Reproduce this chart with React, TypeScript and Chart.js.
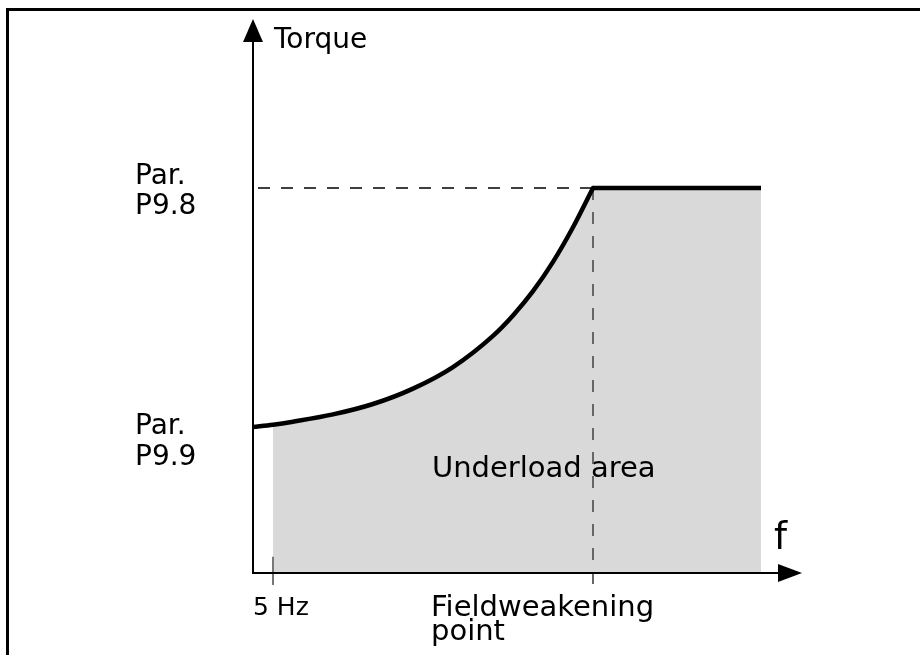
import React, { useEffect, useRef } from "react";
import { Chart, registerables } from "chart.js";

Chart.register(...registerables);

// ---- data ----
const curveFreq = [0, 5, 10, 20, 30, 40, 50, 60, 65, 70, 75, 80, 85];
const curveTorque = [37.9, 38.5, 39.3, 41.2, 43.9, 47.9, 53.5, 61.6, 66.9, 73.2, 80.8, 89.8, 100];
const flatFreq = [85, 127];
const flatTorque = [100, 100];
const limitTorque = 100;
const fieldWeakeningFreq = 85;
const startFreq = 5;
const axisMaxFreq = 137.25;
const axisMaxTorque = 143.9;
const axisMinTorque = 0;

// ---- labels ----
const yAxisTitle = "Torque";
const xAxisTitle = "f";
const upperLimitLabel = ["Par.", "P9.8"];
const lowerLimitLabel = ["Par.", "P9.9"];
const areaLabel = "Underload area";
const startFreqLabel = "5 Hz";
const fieldWeakeningLabel = ["Fieldweakening", "point"];

const FONT = '"DejaVu Sans", sans-serif';

const pts = (xs: number[], ys: number[]) => xs.map((x, i) => ({ x, y: ys[i] }));

const decorPlugin = {
  id: "decor",
  beforeDraw(chart: any) {
    const ctx = chart.ctx;
    ctx.save();
    ctx.fillStyle = "#ffffff";
    ctx.fillRect(0, 0, chart.width, chart.height);
    ctx.restore();
  },
  afterDatasetsDraw(chart: any) {
    const ctx = chart.ctx;
    const xs = chart.scales.x;
    const ys = chart.scales.y;
    const x0 = xs.getPixelForValue(0);
    const y0 = ys.getPixelForValue(0);
    const xEnd = xs.getPixelForValue(axisMaxFreq);
    const yEnd = ys.getPixelForValue(axisMaxTorque);
    const yLimit = ys.getPixelForValue(limitTorque);
    const yLow = ys.getPixelForValue(curveTorque[0]);
    const xFw = xs.getPixelForValue(fieldWeakeningFreq);
    const x5 = xs.getPixelForValue(startFreq);

    ctx.save();
    // frame (top + left)
    ctx.fillStyle = "#000";
    ctx.fillRect(6, 8, chart.width - 6, 3);
    ctx.fillRect(6, 8, 3, chart.height - 8);

    // axes
    ctx.strokeStyle = "#000";
    ctx.lineWidth = 2;
    ctx.beginPath();
    ctx.moveTo(x0, y0 + 1);
    ctx.lineTo(x0, yEnd + 20);
    ctx.stroke();
    ctx.beginPath();
    ctx.moveTo(x0 - 1, y0);
    ctx.lineTo(xEnd - 20, y0);
    ctx.stroke();

    // arrowheads
    ctx.beginPath();
    ctx.moveTo(x0, yEnd);
    ctx.lineTo(x0 - 10, yEnd + 23);
    ctx.lineTo(x0 + 10, yEnd + 23);
    ctx.closePath();
    ctx.fill();
    ctx.beginPath();
    ctx.moveTo(xEnd, y0);
    ctx.lineTo(xEnd - 24, y0 - 9);
    ctx.lineTo(xEnd - 24, y0 + 9);
    ctx.closePath();
    ctx.fill();

    // texts
    ctx.fillStyle = "#000";
    ctx.textBaseline = "alphabetic";
    ctx.textAlign = "left";
    ctx.font = `28px ${FONT}`;
    ctx.fillText(yAxisTitle, x0 + 21, yEnd + 29);
    ctx.fillText(upperLimitLabel[0], 135, yLimit - 4);
    ctx.fillText(upperLimitLabel[1], 135, yLimit + 26);
    ctx.fillText(lowerLimitLabel[0], 135, yLow + 7);
    ctx.fillText(lowerLimitLabel[1], 135, yLow + 38);
    ctx.font = `29px ${FONT}`;
    ctx.fillText(areaLabel, xFw - 161, 477);
    ctx.font = `29px ${FONT}`;
    ctx.fillText(fieldWeakeningLabel[0], xFw - 162, y0 + 43);
    ctx.fillText(fieldWeakeningLabel[1], xFw - 162, y0 + 67);
    ctx.font = `25px ${FONT}`;
    ctx.fillText(startFreqLabel, x5 - 20, y0 + 42);
    ctx.font = `37px ${FONT}`;
    ctx.fillText(xAxisTitle, xEnd - 28, y0 - 24);
    ctx.restore();
  },
};

export default function App() {
  const canvasRef = useRef<HTMLCanvasElement | null>(null);

  useEffect(() => {
    if (!canvasRef.current) return;
    const fillRise = pts(curveFreq.slice(1), curveTorque.slice(1));
    const fillFlat = [{ x: flatFreq[0] - 0.5, y: flatTorque[0] }, { x: flatFreq[1], y: flatTorque[1] }];
    const chart = new Chart(canvasRef.current, {
      type: "line",
      data: {
        datasets: [
          {
            data: pts(curveFreq, curveTorque),
            borderColor: "#000",
            borderWidth: 4.5,
            borderCapStyle: "round",
            cubicInterpolationMode: "monotone",
            pointRadius: 0,
            fill: false,
            order: 0,
          } as any,
          {
            data: pts(flatFreq, flatTorque),
            borderColor: "#000",
            borderWidth: 4.5,
            tension: 0,
            pointRadius: 0,
            fill: false,
            order: 0,
          },
          {
            data: [{ x: 1.25, y: limitTorque }, { x: fieldWeakeningFreq, y: limitTorque }],
            borderColor: "#000",
            borderWidth: 1.5,
            borderDash: [12, 11],
            pointRadius: 0,
            fill: false,
            clip: false,
            order: 5,
          } as any,
          {
            data: [{ x: fieldWeakeningFreq, y: limitTorque }, { x: fieldWeakeningFreq, y: -3.1 }],
            borderColor: "#666",
            borderWidth: 2,
            borderDash: [12, 12],
            pointRadius: 0,
            fill: false,
            clip: false,
            order: 5,
          } as any,
          {
            data: [{ x: startFreq, y: 4.2 }, { x: startFreq, y: -3.1 }],
            borderColor: "#777",
            borderWidth: 2,
            pointRadius: 0,
            fill: false,
            clip: false,
            order: 5,
          } as any,
          {
            data: fillRise,
            borderWidth: 0,
            borderColor: "rgba(0,0,0,0)",
            backgroundColor: "#d9d9d9",
            cubicInterpolationMode: "monotone",
            pointRadius: 0,
            fill: "origin",
            order: 10,
          } as any,
          {
            data: fillFlat,
            borderWidth: 0,
            borderColor: "rgba(0,0,0,0)",
            backgroundColor: "#d9d9d9",
            tension: 0,
            pointRadius: 0,
            fill: "origin",
            order: 10,
          } as any,
        ],
      },
      options: {
        responsive: false,
        animation: false,
        devicePixelRatio: 1,
        layout: { padding: { left: 253, top: 19, right: 118, bottom: 82 } },
        scales: {
          x: { type: "linear", min: 0, max: axisMaxFreq, display: false },
          y: { type: "linear", min: axisMinTorque, max: axisMaxTorque, display: false },
        },
        plugins: {
          legend: { display: false },
          tooltip: { enabled: false },
          title: { display: false },
        },
        events: [],
      } as any,
      plugins: [decorPlugin],
    });
    return () => chart.destroy();
  }, []);

  return (
    <div style={{ position: "absolute", left: 0, top: 0, width: 920, height: 655 }}>
      <canvas ref={canvasRef} width={920} height={655} style={{ display: "block" }} />
    </div>
  );
}
